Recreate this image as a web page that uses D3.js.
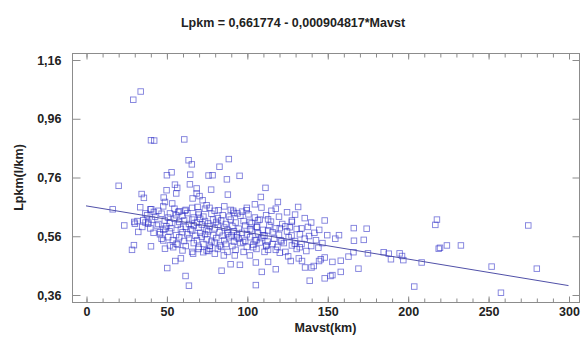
<!DOCTYPE html>
<html>
<head>
<meta charset="utf-8">
<script src="https://cdn.jsdelivr.net/npm/d3@7"></script>
<style>
  body { margin: 0; background: #fff; }
  svg { display: block; font-family: "Liberation Sans", Arial, sans-serif; }
</style>
</head>
<body>
<svg id="chart" width="582" height="338"></svg>
<script>
// regression fit shown in the title
const intercept = 0.661774
const slope = -0.000904817
const title = 'Lpkm = 0,661774 - 0,000904817*Mavst'
const xLabel = 'Mavst(km)'
const yLabel = 'Lpkm(l/km)'

const xMajorTicks = [0, 50, 100, 150, 200, 250, 300]
const xMinorTicks = d3.range(0, 301, 10)
const yTicks = [0.36, 0.56, 0.76, 0.96, 1.16]

const mavst = [
  34.0, 29.4, 40.4, 42.4, 61.1, 63.8, 65.8, 88.8, 83.0, 50.3, 53.2, 64.8, 76.2, 78.7, 95.5, 87.6,
  20.3, 16.6, 23.8, 28.6, 29.8, 32.5, 40.4, 34.6, 36.0, 50.5, 55.5, 59.0, 61.9, 64.0, 84.3, 105.6,
  109.3, 64.6, 55.3, 56.7, 50.1, 68.8, 77.8, 88.2, 111.6, 108.7, 105.0, 48.3, 53.6, 70.6, 72.5, 66.3,
  69.4, 76.8, 82.4, 109.1, 119.3, 115.3, 131.9, 148.4, 113.2, 106.4, 128.0, 134.0, 138.7, 166.5, 174.5,
  157.3, 166.6, 172.7, 144.5, 166.3, 175.3, 185.1, 188.2, 195.0, 196.5, 189.6, 197.3, 208.7, 218.2,
  217.2, 219.3, 220.1, 224.4, 233.1, 275.0, 252.2, 280.3, 258.0, 204.1, 169.4, 158.4, 153.2, 152.0,
  148.4, 139.1, 118.0, 136.2, 140.2, 141.6, 144.9, 146.0, 148.4, 153.2, 158.4, 163.2, 127.3, 132.3,
  134.3, 113.2, 105.6, 56.1, 49.1, 68.8, 40.6, 33.7, 36.9, 42.2, 52.2, 57.3, 61.5, 30.0, 35.6, 38.7,
  99.8, 91.5, 94.2, 75.0, 107.0, 101.9, 89.9, 95.7, 125.7, 120.5, 113.2, 101.9, 92.5, 85.7, 80.1, 75.0,
  113.2, 120.5, 126.7, 127.8, 121.6, 129.8, 132.9, 110.1, 112.2, 105.0, 104.0, 97.7, 93.6, 90.5, 83.2,
  77.0, 72.9, 66.6, 49.1, 52.2, 54.2, 56.3, 48.0, 51.1, 46.0, 49.1, 30.4, 38.7,
  40, 45, 48, 55, 58, 62, 66, 70, 74, 80, 86, 90, 97, 100, 118, 125,
  38, 43, 47, 51, 56, 60, 63, 67, 70, 73, 78, 82, 85, 89, 92, 96, 101, 105, 112, 120, 130, 136,
  32, 37, 41, 45, 49, 52, 55, 58, 61, 64, 66, 69, 71, 74, 76, 79, 81, 84, 87, 90, 93, 98, 103, 108, 115, 122, 128, 140,
  35, 40, 44, 48, 50, 53, 57, 59, 62, 65, 67, 70, 72, 75, 77, 80, 82, 86, 88, 91, 95, 99, 102, 106, 110, 114, 118, 124, 131, 138, 145,
  42, 46, 52, 56, 60, 63, 66, 68, 71, 74, 76, 79, 83, 85, 88, 92, 94, 97, 100, 103, 107, 111, 116, 120, 125, 133, 142, 150,
  47, 54, 58, 61, 64, 69, 72, 75, 78, 81, 86, 89, 92, 95, 99, 102, 106, 109, 113, 117, 121, 126, 130, 136, 143, 155,
  57, 62, 67, 70, 73, 77, 80, 84, 87, 91, 96, 100, 104, 108, 112, 116, 119, 123, 128, 134, 140, 147,
  60, 66, 70, 76, 82, 88, 93, 98, 106, 111, 118, 124, 131, 137
]
const lpkm = [
  1.051, 1.023, 0.885, 0.884, 0.888, 0.817, 0.803, 0.821, 0.795, 0.766, 0.776, 0.768, 0.765, 0.766, 0.764, 0.752,
  0.730, 0.650, 0.595, 0.512, 0.528, 0.573, 0.524, 0.702, 0.689, 0.450, 0.474, 0.483, 0.423, 0.390, 0.441, 0.392,
  0.437, 0.735, 0.734, 0.723, 0.715, 0.721, 0.717, 0.700, 0.723, 0.692, 0.667, 0.690, 0.670, 0.695, 0.681, 0.687,
  0.658, 0.655, 0.647, 0.656, 0.675, 0.645, 0.658, 0.612, 0.616, 0.590, 0.607, 0.585, 0.559, 0.586, 0.584,
  0.562, 0.543, 0.546, 0.519, 0.504, 0.500, 0.504, 0.499, 0.500, 0.491, 0.480, 0.477, 0.469, 0.615,
  0.597, 0.516, 0.519, 0.527, 0.527, 0.595, 0.455, 0.448, 0.366, 0.387, 0.448, 0.437, 0.426, 0.423,
  0.415, 0.407, 0.446, 0.452, 0.452, 0.457, 0.474, 0.480, 0.486, 0.471, 0.475, 0.489, 0.474, 0.483,
  0.474, 0.471, 0.469, 0.704, 0.675, 0.704, 0.650, 0.657, 0.636, 0.641, 0.636, 0.641, 0.645, 0.607, 0.613, 0.607,
  0.647, 0.645, 0.636, 0.664, 0.613, 0.607, 0.463, 0.461, 0.490, 0.502, 0.512, 0.493, 0.493, 0.493, 0.499, 0.510,
  0.578, 0.586, 0.589, 0.561, 0.541, 0.533, 0.521, 0.561, 0.527, 0.544, 0.521, 0.538, 0.555, 0.561, 0.527,
  0.516, 0.504, 0.499, 0.516, 0.527, 0.521, 0.533, 0.544, 0.555, 0.572, 0.584, 0.601, 0.601,
  0.650, 0.645, 0.660, 0.652, 0.643, 0.648, 0.655, 0.640, 0.652, 0.645, 0.660, 0.648, 0.642, 0.655, 0.652, 0.640,
  0.630, 0.625, 0.635, 0.622, 0.630, 0.628, 0.637, 0.622, 0.632, 0.625, 0.635, 0.620, 0.630, 0.625, 0.638, 0.628, 0.633, 0.622, 0.630, 0.625, 0.632, 0.620,
  0.610, 0.605, 0.615, 0.600, 0.612, 0.603, 0.618, 0.607, 0.612, 0.600, 0.615, 0.605, 0.618, 0.610, 0.602, 0.615, 0.607, 0.612, 0.600, 0.615, 0.605, 0.610, 0.602, 0.615, 0.608, 0.600, 0.612, 0.605,
  0.590, 0.585, 0.595, 0.580, 0.592, 0.586, 0.597, 0.583, 0.590, 0.582, 0.595, 0.587, 0.598, 0.580, 0.592, 0.585, 0.597, 0.588, 0.580, 0.593, 0.584, 0.595, 0.582, 0.590, 0.580, 0.595, 0.585, 0.592, 0.583, 0.590, 0.580,
  0.570, 0.565, 0.575, 0.562, 0.572, 0.565, 0.578, 0.560, 0.570, 0.565, 0.575, 0.562, 0.572, 0.560, 0.568, 0.575, 0.562, 0.570, 0.565, 0.577, 0.568, 0.560, 0.572, 0.563, 0.575, 0.565, 0.570, 0.562,
  0.550, 0.545, 0.555, 0.542, 0.552, 0.545, 0.557, 0.548, 0.540, 0.552, 0.545, 0.555, 0.540, 0.550, 0.543, 0.555, 0.545, 0.552, 0.540, 0.550, 0.545, 0.555, 0.542, 0.550, 0.545, 0.550,
  0.530, 0.525, 0.535, 0.522, 0.532, 0.526, 0.537, 0.522, 0.532, 0.525, 0.535, 0.522, 0.530, 0.537, 0.525, 0.532, 0.522, 0.535, 0.527, 0.532, 0.525, 0.535,
  0.510, 0.505, 0.515, 0.508, 0.515, 0.505, 0.512, 0.505, 0.515, 0.505, 0.512, 0.505, 0.515, 0.508
]

const frame = { left: 72, right: 579, top: 53, bottom: 302 }
const markColor = '#2626c4'

const svg = d3.select('#chart')

const x = d3.scaleLinear().domain([0, 300]).range([86, 568.5])
const y = d3.scaleLinear().domain([0.36, 1.16]).range([294.5, 59.5])

const comma = d3.formatLocale({ decimal: ',', thousands: '.', grouping: [3], currency: ['', ''] })
const fmt = comma.format('.2f')

// plot frame
svg.append('rect')
  .attr('x', frame.left + 0.5).attr('y', frame.top + 0.5)
  .attr('width', frame.right - frame.left).attr('height', frame.bottom - frame.top)
  .attr('fill', 'none').attr('stroke', '#8c8c8c')

function styleAxis(g) {
  g.select('.domain').remove()
  g.selectAll('line').attr('stroke', '#8c8c8c')
  g.selectAll('text')
    .attr('fill', '#222')
    .attr('font-size', 12.5)
    .attr('font-weight', 'bold')
}

// x ticks, bottom and top, pointing inward
svg.append('g')
  .attr('transform', `translate(0.5,${frame.bottom + 0.5})`)
  .call(d3.axisBottom(x).tickValues(xMinorTicks).tickSize(-4).tickFormat(''))
  .call(styleAxis)
svg.append('g')
  .attr('transform', `translate(0.5,${frame.bottom + 0.5})`)
  .call(d3.axisBottom(x).tickValues(xMajorTicks).tickSize(-6).tickPadding(5))
  .call(styleAxis)
svg.append('g')
  .attr('transform', `translate(0.5,${frame.top + 0.5})`)
  .call(d3.axisTop(x).tickValues(xMinorTicks).tickSize(-4).tickFormat(''))
  .call(styleAxis)
svg.append('g')
  .attr('transform', `translate(0.5,${frame.top + 0.5})`)
  .call(d3.axisTop(x).tickValues(xMajorTicks).tickSize(-6).tickFormat(''))
  .call(styleAxis)

// y ticks, left with labels and right plain
svg.append('g')
  .attr('transform', `translate(${frame.left + 0.5},0.5)`)
  .call(d3.axisLeft(y).tickValues(yTicks).tickSize(-8).tickPadding(11).tickFormat(fmt))
  .call(styleAxis)
svg.append('g')
  .attr('transform', `translate(${frame.right + 0.5},0.5)`)
  .call(d3.axisRight(y).tickValues(yTicks).tickSize(-7).tickFormat(''))
  .call(styleAxis)

// scatter
const points = mavst.map((m, i) => ({ m, l: lpkm[i] }))
const s = 5.5
svg.append('g')
  .selectAll('rect')
  .data(points)
  .join('rect')
    .attr('x', d => x(d.m) - s / 2)
    .attr('y', d => y(d.l) - s / 2)
    .attr('width', s)
    .attr('height', s)
    .attr('fill', 'none')
    .attr('stroke', markColor)
    .attr('stroke-opacity', 0.6)
    .attr('stroke-width', 0.9)

// fitted line
const line = d3.line()
  .x(d => x(d))
  .y(d => y(intercept + slope * d))
svg.append('path')
  .datum([0, 300])
  .attr('d', line)
  .attr('fill', 'none')
  .attr('stroke', '#5050a8')
  .attr('stroke-width', 1)

// titles
svg.append('text')
  .attr('x', 293).attr('y', 27)
  .attr('text-anchor', 'middle')
  .attr('font-size', 12.5).attr('font-weight', 'bold').attr('fill', '#222')
  .text(title)
svg.append('text')
  .attr('x', (frame.left + frame.right) / 2).attr('y', 332)
  .attr('text-anchor', 'middle')
  .attr('font-size', 12.5).attr('font-weight', 'bold').attr('fill', '#222')
  .text(xLabel)
svg.append('text')
  .attr('transform', `translate(23,${(frame.top + frame.bottom) / 2}) rotate(-90)`)
  .attr('text-anchor', 'middle')
  .attr('font-size', 12.5).attr('font-weight', 'bold').attr('fill', '#222')
  .text(yLabel)
</script>
</body>
</html>
